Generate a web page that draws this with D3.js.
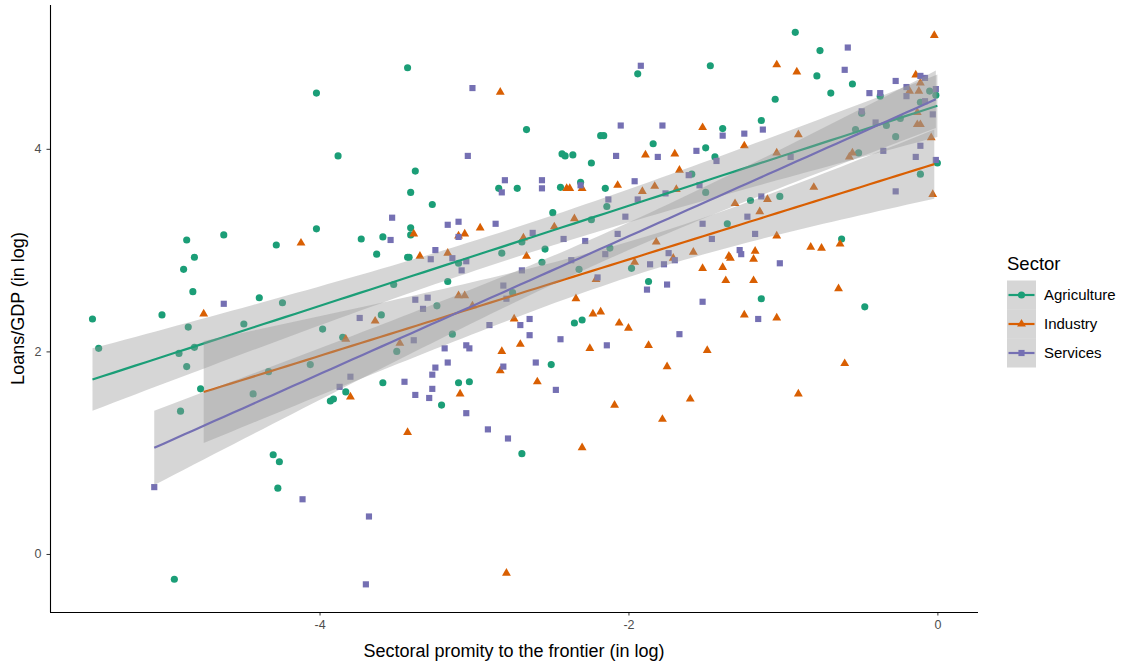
<!DOCTYPE html>
<html>
<head>
<meta charset="utf-8">
<script src="https://cdn.jsdelivr.net/npm/d3@7"></script>
<style>
  body { margin: 0; background: #fff; }
  svg { display: block; }
  text { font-family: "Liberation Sans", Arial, sans-serif; }
</style>
</head>
<body>
<svg id="chart" width="1121" height="666"></svg>
<script>
// Sectors, palette (Dark2) and axis ticks
const sectors = ["Agriculture", "Industry", "Services"];
const colors = ["#1B9E77", "#D95F02", "#7570B3"];
const xTicks = [-4, -2, 0];
const yTicks = [0, 2, 4];
const xTitle = "Sectoral promity to the frontier (in log)";
const yTitle = "Loans/GDP (in log)";
const legendTitle = "Sector";

// [proximity to frontier (log), loans/GDP (log)]
const agriculture = [
  [-3.43,4.80],[-4.02,4.55],[-2.66,4.19],[-3.88,3.93],[-3.38,3.78],[-3.41,3.57],[-3.27,3.45],[-2.84,3.61],
  [-2.72,3.61],[-1.94,4.74],[-1.47,4.82],[-1.39,4.20],[-1.14,4.28],[-2.18,4.13],[-2.16,4.13],[-1.84,4.05],
  [-2.43,3.95],[-2.41,3.93],[-2.36,3.94],[-1.50,4.01],[-1.44,3.92],[-2.24,3.86],[-1.59,3.75],[-2.44,3.62],
  [-2.31,3.67],[-2.15,3.61],[-1.50,3.57],[-1.21,3.49],[-0.92,5.15],[-0.76,4.97],[-0.78,4.72],[-0.55,4.64],
  [-0.69,4.55],[-0.37,4.52],[-1.05,4.49],[-0.05,4.57],[-0.01,4.53],[-0.11,4.46],[-0.49,4.35],[-0.33,4.23],
  [-0.24,4.30],[-0.53,4.19],[-0.27,4.12],[-0.51,3.96],[0.00,3.86],[-0.11,3.75],[-1.02,3.53],[-4.86,3.10],
  [-4.62,3.15],[-4.28,3.05],[-4.81,2.93],[-4.88,2.81],[-4.82,2.59],[-4.39,2.53],[-5.47,2.32],[-5.02,2.36],
  [-4.85,2.24],[-4.49,2.27],[-4.24,2.48],[-5.43,2.03],[-4.81,2.04],[-4.91,1.98],[-4.86,1.85],[-4.77,1.63],
  [-4.33,1.80],[-4.43,1.58],[-4.90,1.41],[-4.30,0.98],[-4.26,0.91],[-4.27,0.65],[-4.94,-0.25],[-4.02,3.21],
  [-3.73,3.11],[-3.59,3.13],[-3.41,3.22],[-3.41,3.15],[-3.63,2.96],[-3.43,2.93],[-3.42,2.93],[-3.10,2.87],
  [-2.82,2.97],[-2.69,3.08],[-3.17,2.69],[-3.52,2.66],[-2.75,2.58],[-3.24,2.45],[-3.60,2.36],[-3.98,2.22],
  [-3.85,2.14],[-3.14,2.17],[-3.50,2.00],[-4.06,1.87],[-3.83,1.60],[-3.59,1.69],[-3.10,1.69],[-3.03,1.70],
  [-3.91,1.53],[-3.93,1.51],[-3.21,1.47],[-2.69,0.99],[-2.49,3.37],[-2.14,3.43],[-2.24,3.30],[-1.36,3.26],
  [-2.54,3.01],[-2.12,3.02],[-2.56,2.88],[-2.32,2.81],[-1.98,2.82],[-1.87,2.69],[-1.14,2.52],[-2.35,2.28],
  [-2.30,2.31],[-2.50,1.87],[-0.62,3.11],[-0.47,2.44]
];

const industry = [
  [-2.83,4.56],[-1.52,4.21],[-1.25,4.03],[-1.89,3.94],[-1.70,3.95],[-1.67,3.79],[-2.40,3.61],[-2.38,3.61],
  [-2.30,3.61],[-2.07,3.64],[-1.83,3.63],[-1.91,3.58],[-1.69,3.60],[-1.31,3.46],[-1.10,3.50],[-0.02,5.12],
  [-1.04,4.83],[-0.91,4.76],[-0.14,4.73],[-0.11,4.65],[-0.18,4.57],[-0.12,4.57],[-0.13,4.36],[-0.13,4.24],
  [-0.11,4.24],[-0.90,4.14],[-0.04,4.11],[-1.04,3.96],[-0.55,3.96],[-0.57,3.92],[-0.80,3.62],[-0.03,3.55],
  [-4.75,2.37],[-2.96,3.22],[-4.12,3.07],[-3.39,3.16],[-3.10,3.14],[-3.06,3.16],[-3.35,2.94],[-3.17,2.97],
  [-2.66,2.94],[-2.68,3.12],[-3.10,2.55],[-3.06,2.55],[-3.01,2.45],[-3.64,2.30],[-2.74,2.32],[-3.83,2.12],
  [-3.48,2.08],[-2.70,2.07],[-2.82,2.00],[-2.83,1.81],[-3.09,1.58],[-3.80,1.55],[-3.43,1.20],[-2.79,-0.19],
  [-2.35,3.31],[-2.48,3.23],[-1.15,3.38],[-1.82,3.08],[-1.58,2.98],[-1.71,2.92],[-1.96,2.88],[-2.21,2.71],
  [-1.52,2.82],[-1.39,2.83],[-1.35,2.94],[-1.34,2.92],[-1.18,2.99],[-1.19,2.91],[-1.37,2.70],[-1.19,2.70],
  [-2.34,2.52],[-2.23,2.37],[-2.18,2.39],[-1.25,2.36],[-2.06,2.28],[-2.00,2.23],[-2.25,2.03],[-1.87,2.06],
  [-1.49,2.01],[-1.75,1.85],[-2.59,1.70],[-1.60,1.53],[-2.09,1.47],[-1.78,1.33],[-2.30,1.05],[-1.04,3.14],
  [-0.82,3.03],[-0.75,3.02],[-0.63,3.06],[-0.64,2.62],[-1.04,2.33],[-0.60,1.88],[-0.90,1.58]
];

const services = [
  [-3.01,4.60],[-3.04,3.93],[-2.80,3.69],[-2.82,3.57],[-1.92,4.82],[-2.05,4.23],[-1.78,4.23],[-1.39,4.13],
  [-1.25,4.15],[-1.13,4.19],[-2.08,3.93],[-1.81,3.92],[-1.56,3.98],[-1.43,3.88],[-1.61,3.74],[-2.56,3.69],
  [-2.56,3.61],[-2.31,3.64],[-1.96,3.68],[-1.76,3.56],[-1.54,3.64],[-2.13,3.50],[-1.94,3.50],[-1.14,3.53],
  [-0.58,5.00],[-0.60,4.78],[-0.44,4.55],[-0.37,4.55],[-0.27,4.67],[-0.20,4.61],[-0.11,4.72],[-0.08,4.70],
  [-0.20,4.52],[-0.01,4.59],[-0.08,4.47],[-0.49,4.37],[-0.40,4.26],[-0.03,4.34],[-0.11,4.03],[-0.95,3.92],
  [-0.35,3.98],[-0.14,3.92],[-0.01,3.89],[-0.27,3.58],[-4.62,2.47],[-5.07,0.66],[-3.53,3.32],[-3.17,3.25],
  [-3.10,3.28],[-2.86,3.26],[-3.54,3.10],[-3.10,3.13],[-3.25,3.00],[-3.28,2.91],[-3.14,2.92],[-3.05,2.89],
  [-3.08,2.80],[-2.69,2.80],[-2.81,2.65],[-2.79,2.52],[-3.38,2.51],[-3.30,2.53],[-3.33,2.42],[-3.74,2.33],
  [-2.64,2.32],[-2.90,2.26],[-2.70,2.26],[-3.39,2.11],[-2.64,2.16],[-3.19,2.03],[-3.05,2.06],[-3.03,2.03],
  [-3.17,1.89],[-3.25,1.84],[-3.27,1.77],[-2.81,1.85],[-3.80,1.75],[-3.87,1.65],[-3.45,1.70],[-3.27,1.63],
  [-3.38,1.57],[-3.29,1.54],[-3.05,1.39],[-2.91,1.23],[-2.78,1.14],[-4.11,0.54],[-3.68,0.37],[-3.70,-0.30],
  [-2.02,3.33],[-1.23,3.33],[-2.62,3.17],[-2.42,3.11],[-2.28,3.09],[-2.07,3.16],[-1.52,3.26],[-1.46,3.11],
  [-1.18,3.16],[-2.15,2.96],[-2.37,2.90],[-1.74,2.97],[-1.70,2.90],[-1.86,2.86],[-1.77,2.86],[-2.20,2.73],
  [-1.28,3.00],[-1.27,2.96],[-1.75,2.66],[-1.88,2.61],[-1.52,2.49],[-1.16,2.32],[-1.67,2.17],[-2.44,2.12],
  [-2.14,2.06],[-2.60,1.89],[-2.47,1.62],[-1.02,2.87]
];

const seriesData = [agriculture, industry, services];
const shapes = [d3.symbolCircle, d3.symbolTriangle, d3.symbolSquare];
const shapeSizes = [40, 34, 38];

const svg = d3.select("#chart");
const plot = { left: 50, right: 978, top: 5, bottom: 612 };

const x = d3.scaleLinear().domain([-5.745, 0.263]).range([plot.left, plot.right]);
const y = d3.scaleLinear().domain([-0.573, 5.42]).range([plot.bottom, plot.top]);

// Ordinary least squares fit with a 95% confidence band (like geom_smooth(method = "lm"))
function linearFit(pts) {
  const n = pts.length;
  const mx = d3.mean(pts, d => d[0]);
  const my = d3.mean(pts, d => d[1]);
  let sxx = 0, sxy = 0;
  pts.forEach(([a, b]) => { sxx += (a - mx) ** 2; sxy += (a - mx) * (b - my); });
  const slope = sxy / sxx;
  const icpt = my - slope * mx;
  let sse = 0;
  pts.forEach(([a, b]) => { sse += (b - (icpt + slope * a)) ** 2; });
  const df = n - 2;
  const s = Math.sqrt(sse / df);
  const z = 1.959964;
  const tq = z + (z ** 3 + z) / (4 * df) + (5 * z ** 5 + 16 * z ** 3 + 3 * z) / (96 * df * df);
  const [x0, x1] = d3.extent(pts, d => d[0]);
  return d3.range(80).map(i => {
    const xv = x0 + (x1 - x0) * i / 79;
    const fitv = icpt + slope * xv;
    const se = s * Math.sqrt(1 / n + (xv - mx) ** 2 / sxx);
    return { x: xv, y: fitv, lo: fitv - tq * se, hi: fitv + tq * se };
  });
}

const clipId = "panel-clip";
svg.append("defs").append("clipPath").attr("id", clipId)
  .append("rect").attr("x", plot.left).attr("y", plot.top)
  .attr("width", plot.right - plot.left).attr("height", plot.bottom - plot.top);

const panel = svg.append("g").attr("clip-path", `url(#${clipId})`);

// Points first
seriesData.forEach((pts, i) => {
  panel.append("g").selectAll("path").data(pts).join("path")
    .attr("transform", d => `translate(${x(d[0])},${y(d[1])})`)
    .attr("d", d3.symbol().type(shapes[i]).size(shapeSizes[i]))
    .attr("fill", colors[i]);
});

// Then each sector's ribbon and fitted line
const area = d3.area().x(d => x(d.x)).y0(d => y(d.lo)).y1(d => y(d.hi));
const line = d3.line().x(d => x(d.x)).y(d => y(d.y));
seriesData.forEach((pts, i) => {
  const fit = linearFit(pts);
  panel.append("path").attr("d", area(fit))
    .attr("fill", "#999999").attr("fill-opacity", 0.4);
  panel.append("path").attr("d", line(fit))
    .attr("fill", "none").attr("stroke", colors[i]).attr("stroke-width", 2.2);
});

// Axes
const xAxis = svg.append("g").attr("transform", `translate(0,${plot.bottom})`)
  .call(d3.axisBottom(x).tickValues(xTicks).tickSize(3.5).tickPadding(5).tickFormat(d3.format("d")));
const yAxis = svg.append("g").attr("transform", `translate(${plot.left},0)`)
  .call(d3.axisLeft(y).tickValues(yTicks).tickSize(3.5).tickPadding(5).tickFormat(d3.format("d")));
[xAxis, yAxis].forEach(g => {
  g.select(".domain").remove();
  g.selectAll(".tick line").attr("stroke", "#333333");
  g.selectAll(".tick text").attr("fill", "#4d4d4d").attr("font-size", 12.5)
    .attr("font-family", '"Liberation Sans", Arial, sans-serif');
});
xAxis.selectAll(".tick text").text(d => d < 0 ? "-" + Math.abs(d) : d);
svg.append("line").attr("x1", plot.left).attr("x2", plot.right)
  .attr("y1", plot.bottom + 0.5).attr("y2", plot.bottom + 0.5)
  .attr("stroke", "#000").attr("stroke-width", 1.1);
svg.append("line").attr("x1", plot.left + 0.5).attr("x2", plot.left + 0.5)
  .attr("y1", plot.top).attr("y2", plot.bottom)
  .attr("stroke", "#000").attr("stroke-width", 1.1);

// Axis titles
svg.append("text").attr("x", (plot.left + plot.right) / 2).attr("y", 657)
  .attr("text-anchor", "middle").attr("font-size", 18).attr("fill", "#000").text(xTitle);
svg.append("text").attr("transform", `translate(24,${(plot.top + plot.bottom) / 2}) rotate(-90)`)
  .attr("text-anchor", "middle").attr("font-size", 18).attr("fill", "#000").text(yTitle);

// Legend
const lg = svg.append("g").attr("transform", "translate(1007,0)");
lg.append("text").attr("x", 0).attr("y", 270).attr("font-size", 18.5).attr("fill", "#000").text(legendTitle);
sectors.forEach((name, i) => {
  const cy = 295 + i * 29;
  lg.append("rect").attr("x", 0).attr("y", cy - 14.5).attr("width", 29).attr("height", 29)
    .attr("fill", "#999999").attr("fill-opacity", 0.4);
  lg.append("line").attr("x1", 1.5).attr("x2", 27.5).attr("y1", cy).attr("y2", cy)
    .attr("stroke", colors[i]).attr("stroke-width", 2.2);
  lg.append("path").attr("transform", `translate(14.5,${cy})`)
    .attr("d", d3.symbol().type(shapes[i]).size(shapeSizes[i])).attr("fill", colors[i]);
  lg.append("text").attr("x", 37).attr("y", cy + 5).attr("font-size", 15).attr("fill", "#000").text(name);
});
</script>
</body>
</html>
